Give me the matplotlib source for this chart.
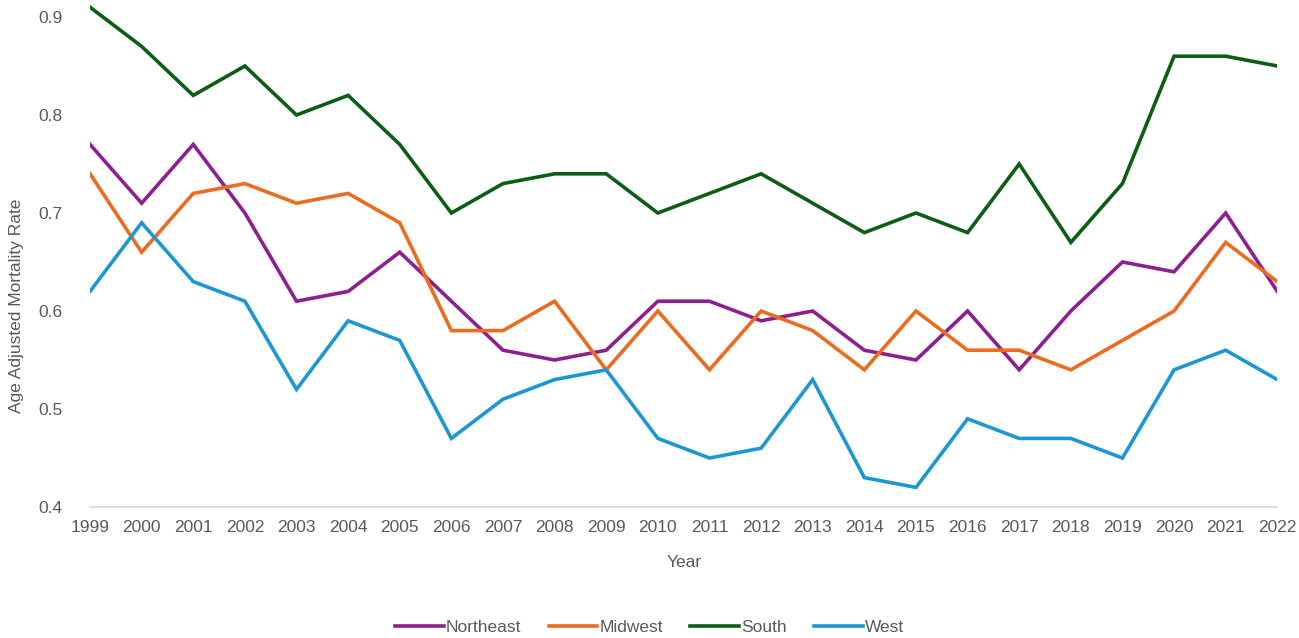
import matplotlib
matplotlib.use("Agg")
import matplotlib.pyplot as plt

plt.rcParams['font.family'] = ['Liberation Sans Narrow', 'Liberation Sans', 'DejaVu Sans']

# dados
anos = list(range(1999, 2023))
northeast = [0.77, 0.71, 0.77, 0.70, 0.61, 0.62, 0.66, 0.61, 0.56, 0.55, 0.56, 0.61,
             0.61, 0.59, 0.60, 0.56, 0.55, 0.60, 0.54, 0.60, 0.65, 0.64, 0.70, 0.62]
midwest = [0.74, 0.66, 0.72, 0.73, 0.71, 0.72, 0.69, 0.58, 0.58, 0.61, 0.54, 0.60,
           0.54, 0.60, 0.58, 0.54, 0.60, 0.56, 0.56, 0.54, 0.57, 0.60, 0.67, 0.63]
south = [0.91, 0.87, 0.82, 0.85, 0.80, 0.82, 0.77, 0.70, 0.73, 0.74, 0.74, 0.70,
         0.72, 0.74, 0.71, 0.68, 0.70, 0.68, 0.75, 0.67, 0.73, 0.86, 0.86, 0.85]
west = [0.62, 0.69, 0.63, 0.61, 0.52, 0.59, 0.57, 0.47, 0.51, 0.53, 0.54, 0.47,
        0.45, 0.46, 0.53, 0.43, 0.42, 0.49, 0.47, 0.47, 0.45, 0.54, 0.56, 0.53]

series = [("Northeast", northeast, "#8E1F91"),
          ("Midwest", midwest, "#ED6B1F"),
          ("South", south, "#0B5E14"),
          ("West", west, "#1B98D4")]

fig = plt.figure(figsize=(12.99, 6.38), dpi=100)
ax = fig.add_axes([0.0693, 0.2053, 0.914, 0.7911])

for nome, valores, cor in series:
    ax.plot(anos, valores, color=cor, linewidth=2.6, label=nome, solid_joinstyle='miter')

ax.set_xlim(1999, 2022)
ax.set_ylim(0.4, 0.915)
ax.set_xticks(anos)
ax.set_xticklabels([str(a) for a in anos])
ax.set_yticks([0.4, 0.5, 0.6, 0.7, 0.8, 0.9])
ax.set_yticklabels(["0.4", "0.5", "0.6", "0.7", "0.8", "0.9"])
ax.tick_params(length=0, labelsize=12.5, colors="#595959", pad=9)
ax.tick_params(axis='y', pad=20)

for lado in ['top', 'right', 'left']:
    ax.spines[lado].set_visible(False)
ax.spines['bottom'].set_color("#D9D9D9")
ax.spines['bottom'].set_linewidth(1.2)

ax.set_xlabel("Year", fontsize=12.5, color="#595959", labelpad=15)
fig.text(0.013, 0.52, "Age Adjusted Mortality Rate", rotation=90, fontsize=12.5,
         color="#595959", ha='center', va='center')

fig.legend(loc='center', bbox_to_anchor=(0.5, 1 - 627 / 638), ncol=4, frameon=False,
           fontsize=12.5, handlelength=2.8, handletextpad=0.1, columnspacing=1.6,
           labelcolor="#595959")

fig.savefig("out.png", dpi=100)
